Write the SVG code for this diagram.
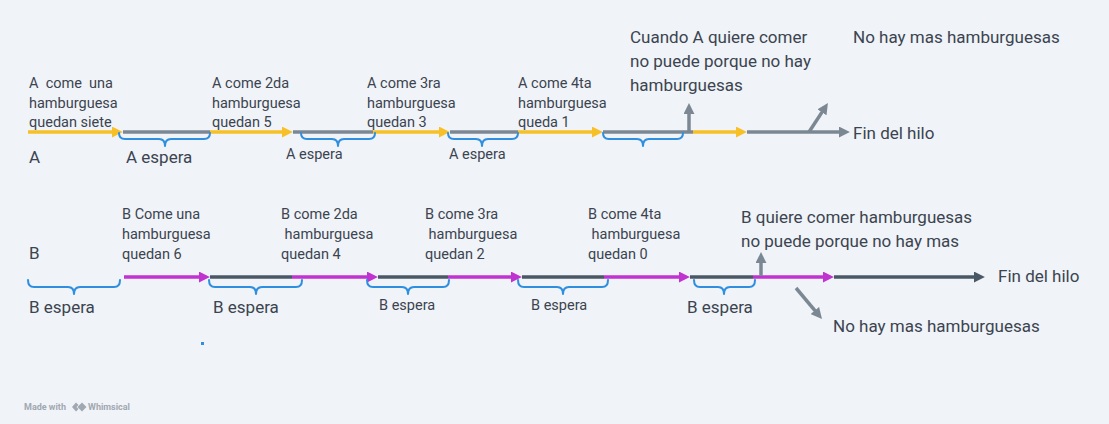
<svg xmlns="http://www.w3.org/2000/svg" width="1109" height="424" viewBox="0 0 1109 424">
<style>
text{font-family:Roboto,"Noto Sans",sans-serif;fill:#3b4450;white-space:pre}
.s{font-size:14.5px}
.m{font-size:14.5px}
.l{font-size:17px}
.ln{fill:none;stroke-width:3.5;stroke-linecap:butt}
.y{stroke:#f6c026}
.g{stroke:#7b8894}
.p{stroke:#c133d0}
.d{stroke:#4a5866}
.br{fill:none;stroke:#2e8ee0;stroke-width:2;stroke-linejoin:round;stroke-linecap:round}
.wm{font-size:9px;font-weight:bold;fill:#a0a8b1}
</style>
<defs>
<marker id="ay" viewBox="0 0 10 10" refX="1" refY="5" markerWidth="11" markerHeight="11" markerUnits="userSpaceOnUse" orient="auto"><path d="M0,0 L10,5 L0,10 z" fill="#f6c026"/></marker>
<marker id="ag" viewBox="0 0 10 10" refX="1" refY="5" markerWidth="11" markerHeight="11" markerUnits="userSpaceOnUse" orient="auto"><path d="M0,0 L10,5 L0,10 z" fill="#7b8894"/></marker>
<marker id="ap" viewBox="0 0 10 10" refX="1" refY="5" markerWidth="11" markerHeight="11" markerUnits="userSpaceOnUse" orient="auto"><path d="M0,0 L10,5 L0,10 z" fill="#c133d0"/></marker>
<marker id="ad" viewBox="0 0 10 10" refX="1" refY="5" markerWidth="11" markerHeight="11" markerUnits="userSpaceOnUse" orient="auto"><path d="M0,0 L10,5 L0,10 z" fill="#4a5866"/></marker>
</defs>
<rect width="1109" height="424" fill="#f0f3f7"/>

<g id="connectors">
<!-- Thread A -->
<line class="ln y" x1="28" y1="132" x2="113" y2="132" marker-end="url(#ay)"/>
<line class="ln g" x1="123" y1="132" x2="210" y2="132"/>
<line class="ln y" x1="210" y1="132" x2="283" y2="132" marker-end="url(#ay)"/>
<line class="ln g" x1="293" y1="132" x2="373" y2="132"/>
<line class="ln y" x1="373" y1="132" x2="440" y2="132" marker-end="url(#ay)"/>
<line class="ln g" x1="450" y1="132" x2="518" y2="132"/>
<line class="ln y" x1="518" y1="132" x2="593" y2="132" marker-end="url(#ay)"/>
<line class="ln g" x1="603" y1="132" x2="693" y2="132"/>
<line class="ln y" x1="693" y1="132" x2="737" y2="132" marker-end="url(#ay)"/>
<line class="ln g" x1="747" y1="132" x2="840" y2="132" marker-end="url(#ag)"/>
<line class="ln g" x1="689" y1="133" x2="689" y2="113" marker-end="url(#ag)"/>
<line class="ln g" x1="809" y1="132" x2="822.5" y2="111.4" marker-end="url(#ag)"/>
<!-- Thread B -->
<line class="ln p" x1="124" y1="277" x2="200" y2="277" marker-end="url(#ap)"/>
<line class="ln d" x1="210" y1="277" x2="292" y2="277"/>
<line class="ln p" x1="292" y1="277" x2="368" y2="277" marker-end="url(#ap)"/>
<line class="ln d" x1="378" y1="277" x2="448" y2="277"/>
<line class="ln p" x1="448" y1="277" x2="512" y2="277" marker-end="url(#ap)"/>
<line class="ln d" x1="522" y1="277" x2="604" y2="277"/>
<line class="ln p" x1="604" y1="277" x2="680" y2="277" marker-end="url(#ap)"/>
<line class="ln d" x1="690" y1="277" x2="753" y2="277"/>
<line class="ln p" x1="753" y1="277" x2="824" y2="277" marker-end="url(#ap)"/>
<line class="ln d" x1="834" y1="277" x2="975" y2="277" marker-end="url(#ad)"/>
<line class="ln g" x1="761" y1="276" x2="761" y2="262" marker-end="url(#ag)"/>
<line class="ln g" x1="796" y1="288" x2="815.6" y2="311.3" marker-end="url(#ag)"/>
</g>

<g id="braces">
<path class="br" d="M119,133 Q119,139 125,139 L159,139 Q165,139 165,146 Q165,139 171,139 L204,139 Q210,139 210,133"/>
<path class="br" d="M301,133 Q301,139 307,139 L332,139 Q338,139 338,146 Q338,139 344,139 L369,139 Q375,139 375,133"/>
<path class="br" d="M448,133 Q448,139 454,139 L476,139 Q482,139 482,146 Q482,139 488,139 L512,139 Q518,139 518,133"/>
<path class="br" d="M603,133 Q603,139 609,139 L637,139 Q643,139 643,146 Q643,139 649,139 L677,139 Q683,139 683,133"/>
<path class="br" d="M28,280 Q28,287 34,287 L68,287 Q74,287 74,294 Q74,287 80,287 L114,287 Q120,287 120,280"/>
<path class="br" d="M209,280 Q209,287 215,287 L250,287 Q256,287 256,294 Q256,287 262,287 L296,287 Q302,287 302,280"/>
<path class="br" d="M367,280 Q367,287 373,287 L402,287 Q408,287 408,294 Q408,287 414,287 L443,287 Q449,287 449,280"/>
<path class="br" d="M518,280 Q518,287 524,287 L557,287 Q563,287 563,294 Q563,287 569,287 L602,287 Q608,287 608,280"/>
<path class="br" d="M694,280 Q694,287 700,287 L718,287 Q724,287 724,294 Q724,287 730,287 L749,287 Q755,287 755,280"/>
</g>

<g id="thread-a-labels">
<text class="l" x="29" y="163">A</text>
<text class="s" x="29" y="88">A  come  una<tspan x="29" y="107.5">hamburguesa</tspan><tspan x="29" y="127">quedan siete</tspan></text>
<text class="s" x="212" y="88">A come 2da<tspan x="212" y="107.5">hamburguesa</tspan><tspan x="212" y="127">quedan 5</tspan></text>
<text class="s" x="367" y="88">A come 3ra<tspan x="367" y="107.5">hamburguesa</tspan><tspan x="367" y="127">quedan 3</tspan></text>
<text class="s" x="518" y="88">A come 4ta<tspan x="518" y="107.5">hamburguesa</tspan><tspan x="518" y="127">queda 1</tspan></text>
<text class="l" x="126" y="163">A espera</text>
<text class="m" x="286" y="159">A espera</text>
<text class="m" x="449" y="159">A espera</text>
<text class="l" x="630" y="43">Cuando A quiere comer<tspan x="630" y="67">no puede porque no hay</tspan><tspan x="630" y="91">hamburguesas</tspan></text>
<text class="l" x="853" y="43">No hay mas hamburguesas</text>
<text class="l" x="853" y="139">Fin del hilo</text>
</g>

<g id="thread-b-labels">
<text class="l" x="29" y="259">B</text>
<text class="s" x="122" y="219">B Come una<tspan x="122" y="239">hamburguesa</tspan><tspan x="122" y="259">quedan 6</tspan></text>
<text class="s" x="281" y="219">B come 2da<tspan x="281" y="239"> hamburguesa</tspan><tspan x="281" y="259">quedan 4</tspan></text>
<text class="s" x="425" y="219">B come 3ra<tspan x="425" y="239"> hamburguesa</tspan><tspan x="425" y="259">quedan 2</tspan></text>
<text class="s" x="588" y="219">B come 4ta<tspan x="588" y="239"> hamburguesa</tspan><tspan x="588" y="259">quedan 0</tspan></text>
<text class="l" x="29" y="313">B espera</text>
<text class="l" x="213" y="313">B espera</text>
<text class="m" x="379" y="310">B espera</text>
<text class="m" x="531" y="310">B espera</text>
<text class="l" x="687" y="313">B espera</text>
<text class="l" x="741" y="223">B quiere comer hamburguesas<tspan x="741" y="247">no puede porque no hay mas</tspan></text>
<text class="l" x="998" y="282">Fin del hilo</text>
<text class="l" x="833" y="332">No hay mas hamburguesas</text>
</g>

<rect x="201" y="342" width="3" height="3" fill="#2e8ee0"/>

<g id="watermark">
<text class="wm" x="24" y="410">Made with</text>
<path d="M72,407 L76,402.5 L78.5,405 L76.5,407 L78.5,409 L76,411.5 z M77.5,407 L82,402.5 L86.5,407 L82,411.5 z" fill="#a0a8b1"/>
<text class="wm" x="88" y="410">Whimsical</text>
</g>
</svg>
